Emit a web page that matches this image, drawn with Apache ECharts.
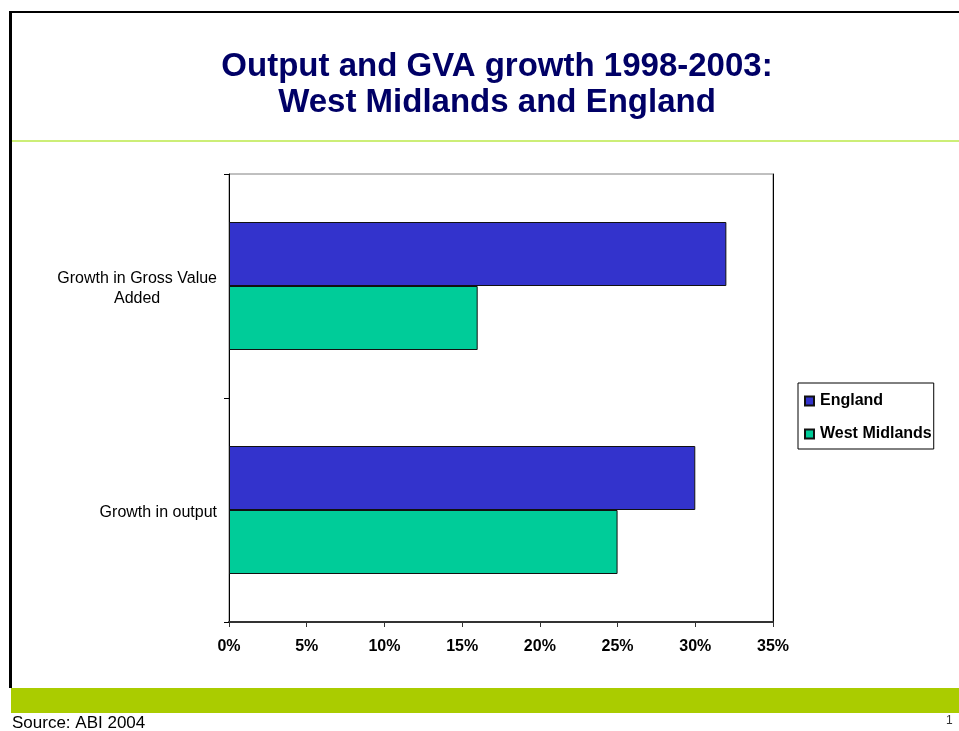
<!DOCTYPE html>
<html>
<head>
<meta charset="utf-8">
<script src="https://cdn.jsdelivr.net/npm/echarts@6/dist/echarts.min.js"></script>
<style>
  html, body { margin: 0; padding: 0; background: #fff; }
  #chart { width: 959px; height: 731px; }
</style>
</head>
<body>
<div id="chart"></div>
<script>
// Growth measures, bottom to top on the category axis
const categories = ['Growth in output', 'Growth in Gross Value\nAdded'];
// Percentage growth 1998-2003
const englandValues = [30, 32];
const westMidlandsValues = [25, 16];
const tickValues = [0, 5, 10, 15, 20, 25, 30, 35];

const FONT = 'Arial';

const chart = echarts.init(document.getElementById('chart'), null, { renderer: 'canvas' });

chart.setOption({
  animation: false,
  backgroundColor: '#ffffff',
  textStyle: { fontFamily: FONT },
  title: {
    text: 'Output and GVA growth 1998-2003:\nWest Midlands and England',
    left: 492,
    top: 44,
    textAlign: 'center',
    textStyle: {
      fontFamily: FONT,
      fontSize: 33,
      fontWeight: 'bold',
      color: '#000066',
      lineHeight: 36
    }
  },
  legend: {
    orient: 'vertical',
    left: 798,
    top: 383,
    padding: [10, 2, 7, 6],
    itemGap: 17,
    itemWidth: 9,
    itemHeight: 9,
    icon: 'rect',
    borderColor: '#000000',
    borderWidth: 1,
    data: ['England', 'West Midlands'],
    textStyle: { fontFamily: FONT, fontSize: 16, fontWeight: 'bold', color: '#000000', padding: [0, 0, 0, 1] }
  },
  grid: {
    left: 229,
    top: 174,
    right: 186,
    bottom: 109,
    show: true,
    borderColor: '#808080',
    borderWidth: 1,
    containLabel: false
  },
  xAxis: {
    type: 'value',
    min: 0,
    max: 35,
    interval: 5,
    axisLine: { show: true, lineStyle: { color: '#333333', width: 2 } },
    axisTick: { show: true, length: 5, lineStyle: { color: '#333333', width: 1 } },
    splitLine: { show: false },
    axisLabel: {
      margin: 17,
      fontFamily: FONT,
      fontSize: 16,
      fontWeight: 'bold',
      color: '#000000',
      formatter: v => tickValues.includes(v) ? v + '%' : ''
    }
  },
  yAxis: [
    {
      type: 'category',
      data: categories,
      axisLine: { show: true, lineStyle: { color: '#000000', width: 1 } },
      axisTick: { show: true, length: 5, lineStyle: { color: '#000000' } },
      axisLabel: {
        margin: 12,
        fontFamily: FONT,
        fontSize: 16,
        color: '#000000',
        align: 'right',
        lineHeight: 20,
        padding: [5, 0, 0, 0],
        formatter: v => v.split('\n').map(s => '{c|' + s + '}').join('\n'),
        rich: { c: { align: 'center', fontFamily: FONT, fontSize: 16, color: '#000000', lineHeight: 20 } }
      }
    },
    {
      type: 'category',
      data: categories,
      position: 'right',
      axisLine: { show: true, lineStyle: { color: '#000000', width: 1 } },
      axisTick: { show: false },
      axisLabel: { show: false }
    }
  ],
  series: [
    {
      name: 'England',
      type: 'bar',
      data: englandValues,
      barWidth: 64,
      barGap: '0%',
      itemStyle: { color: '#3333CC', borderColor: '#111111', borderWidth: 1 }
    },
    {
      name: 'West Midlands',
      type: 'bar',
      data: westMidlandsValues,
      barWidth: 64,
      barGap: '0%',
      itemStyle: { color: '#00CC99', borderColor: '#111111', borderWidth: 1 }
    }
  ],
  graphic: [
    // slide frame: top rule and left rule
    { type: 'rect', shape: { x: 9, y: 11, width: 950, height: 2 }, style: { fill: '#000000' }, silent: true },
    { type: 'rect', shape: { x: 9, y: 11, width: 3, height: 677 }, style: { fill: '#000000' }, silent: true },
    // rule under the heading
    { type: 'rect', shape: { x: 12, y: 140, width: 947, height: 2 }, style: { fill: '#CCEE77' }, silent: true },
    // footer band
    { type: 'rect', shape: { x: 11, y: 688, width: 948, height: 25 }, style: { fill: '#AACC00' }, silent: true },
    {
      type: 'text', left: 12, top: 715,
      style: { text: 'Source: ABI 2004', font: '17px ' + FONT, fill: '#000000' }, silent: true
    },
    {
      type: 'text', left: 946, top: 715,
      style: { text: '1', font: '12px ' + FONT, fill: '#333333' }, silent: true
    }
  ]
});
</script>
</body>
</html>
